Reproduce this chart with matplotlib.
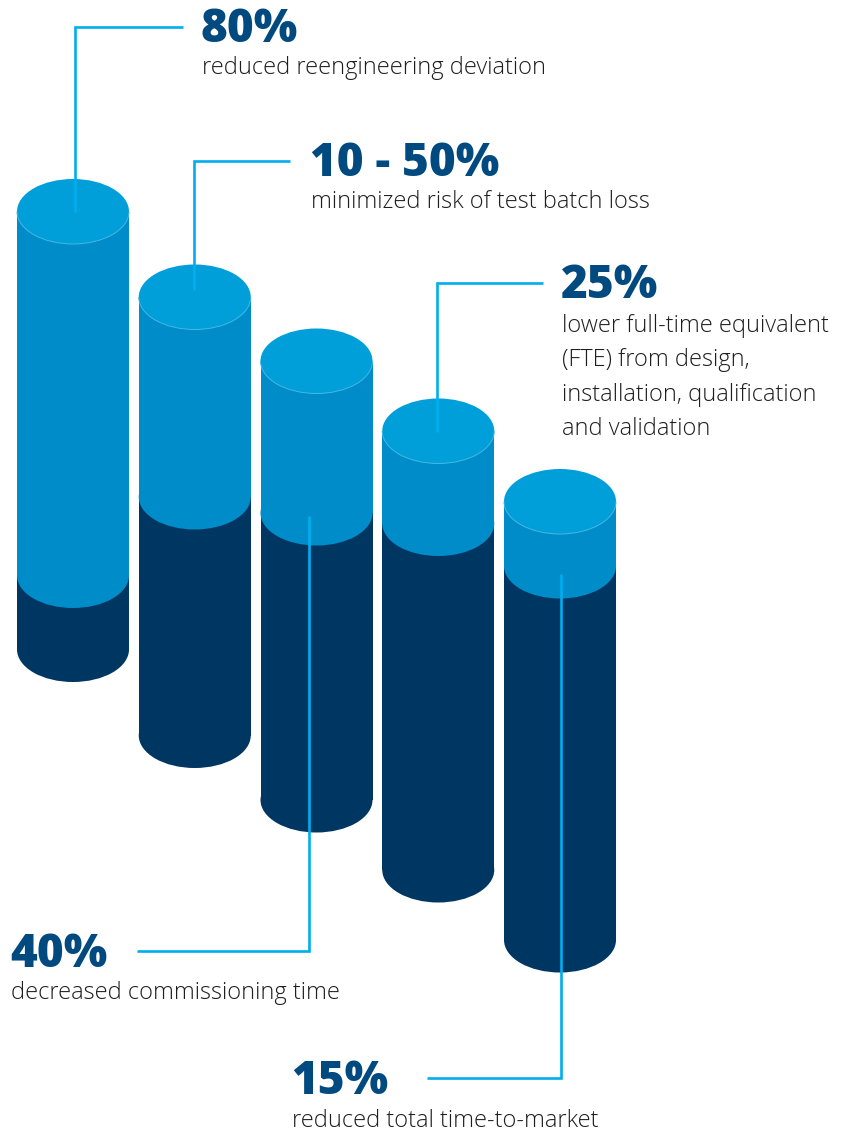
import matplotlib
matplotlib.use("Agg")
import matplotlib.pyplot as plt
from matplotlib.patches import Ellipse, Rectangle, Arc

values = ["80%", "10 - 50%", "25%", "40%", "15%"]
captions = [
    ["reduced reengineering deviation"],
    ["minimized risk of test batch loss"],
    ["lower full-time equivalent", "(FTE) from design,",
     "installation, qualification", "and validation"],
    ["decreased commissioning time"],
    ["reduced total time-to-market"],
]
# cylinder levels (page units, measured downward)
top_level = [211.5, 297, 361, 431, 501.5]
split_level = [575.5, 497, 513, 523.5, 566]
base_level = [649.5, 735.5, 800, 870, 940]

# colours
c_top = "#009fda"
c_side = "#008cc8"
c_dark = "#003662"
c_line = "#00aeef"
c_value = "#004a80"
c_text = "#1e1e1e"

fig = plt.figure(figsize=(8.47, 11.34), dpi=100)
ax = fig.add_axes([0, 0, 1, 1])
ax.set_xlim(0, 847)
ax.set_ylim(1134, 0)
ax.axis("off")

x0, step = 73, 121.75
rx, ry = 56, 32.5

for i in range(len(values)):
    cx = x0 + i * step
    t, s, b = top_level[i], split_level[i], base_level[i]
    # dark lower part
    ax.add_patch(Rectangle((cx - rx, s), 2 * rx, b - s, color=c_dark, lw=0))
    ax.add_patch(Ellipse((cx, b), 2 * rx, 2 * ry, color=c_dark, lw=0))
    # light upper part
    ax.add_patch(Rectangle((cx - rx, t), 2 * rx, s - t, color=c_side, lw=0))
    ax.add_patch(Ellipse((cx, s), 2 * rx, 2 * ry, color=c_side, lw=0))
    # lid
    ax.add_patch(Ellipse((cx, t), 2 * rx, 2 * ry, color=c_top, lw=0))
    ax.add_patch(Arc((cx, t), 2 * rx, 2 * ry, theta1=0, theta2=180,
                     color="#45b8e6", lw=0.7))

# leader lines: (start inside cylinder) -> corner -> end near label
leaders = [
    ([75, 75, 183], [212, 27, 27]),
    ([194, 194, 290], [290, 161, 161]),
    ([309, 309, 137], [516, 951, 951]),
    ([437, 437, 543], [432, 283, 283]),
    ([561, 561, 427], [574, 1078, 1078]),
]
for xs, ys in leaders:
    ax.plot(xs, ys, color=c_line, lw=1.9, solid_capstyle="butt",
            solid_joinstyle="miter")

# labels
label_x = [201, 310, 561, 10, 291]
value_base = [42, 176, 298, 967, 1094]
caption_base = [74, 208, 332, 999, 1127]
line_gap = 34.3

for i in range(len(values)):
    ax.text(label_x[i], value_base[i], values[i], family="Open Sans",
            fontweight="heavy", fontsize=33, color=c_value, va="baseline",
            ha="left")
    for k, line in enumerate(captions[i]):
        ax.text(label_x[i] + 1, caption_base[i] + k * line_gap, line,
                family="Open Sans", fontweight="light", fontsize=17,
                color=c_text, va="baseline", ha="left")

fig.savefig("out.png", dpi=100)
